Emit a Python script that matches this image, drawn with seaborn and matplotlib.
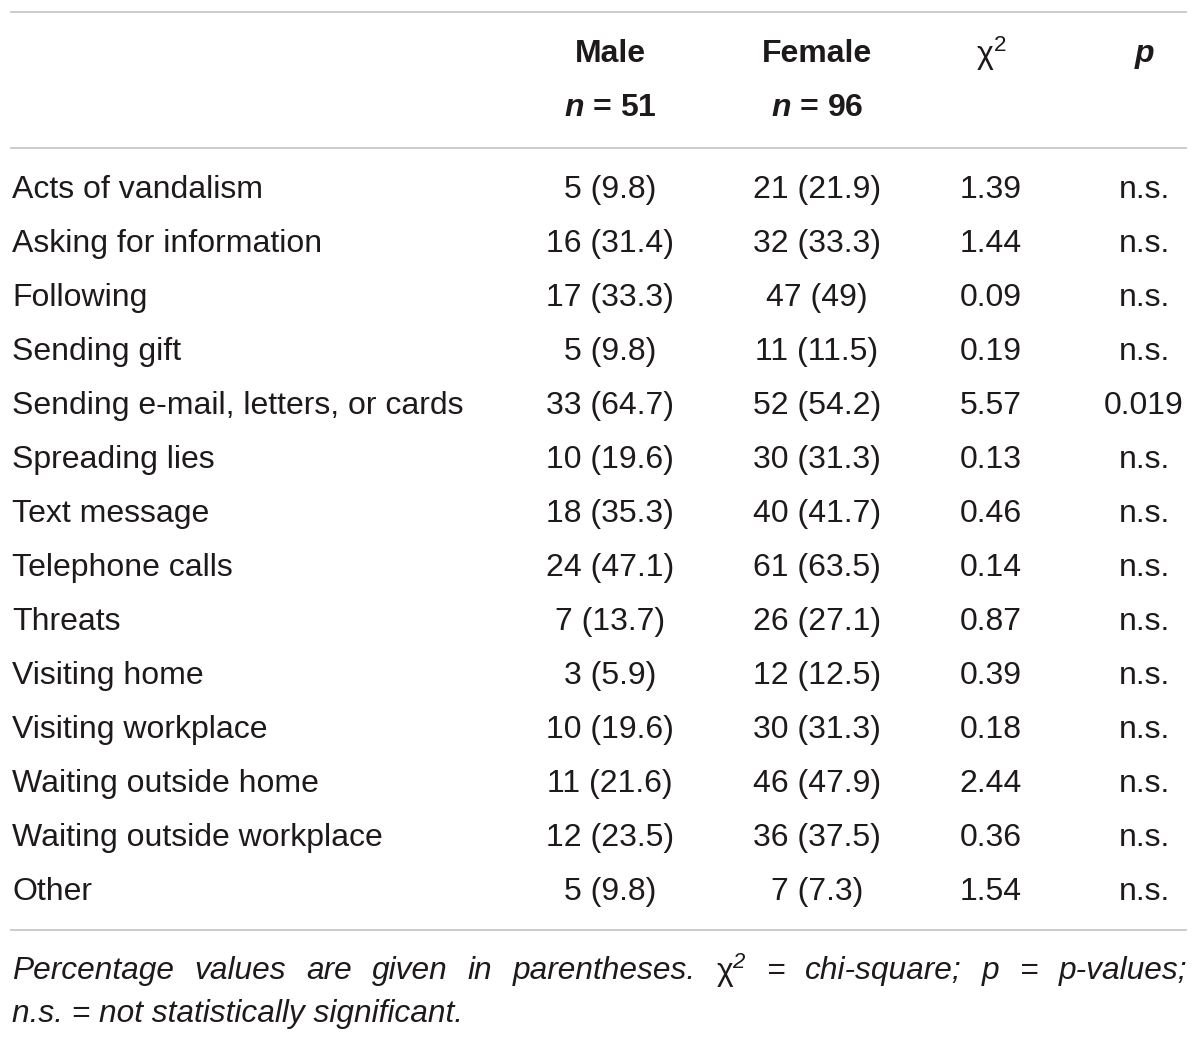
import matplotlib
matplotlib.use("Agg")
import matplotlib.pyplot as plt
import seaborn as sns

sns.set_theme(style="white")
plt.rcParams['font.family'] = ['Liberation Sans', 'DejaVu Sans']
plt.rcParams['mathtext.fontset'] = 'custom'
plt.rcParams['mathtext.rm'] = 'Liberation Sans'
plt.rcParams['mathtext.it'] = 'Liberation Sans:italic:bold'
plt.rcParams['mathtext.default'] = 'regular'

# table data
behaviours = ["Acts of vandalism", "Asking for information", "Following", "Sending gift",
              "Sending e-mail, letters, or cards", "Spreading lies", "Text message",
              "Telephone calls", "Threats", "Visiting home", "Visiting workplace",
              "Waiting outside home", "Waiting outside workplace", "Other"]
male = ["5 (9.8)", "16 (31.4)", "17 (33.3)", "5 (9.8)", "33 (64.7)", "10 (19.6)", "18 (35.3)",
        "24 (47.1)", "7 (13.7)", "3 (5.9)", "10 (19.6)", "11 (21.6)", "12 (23.5)", "5 (9.8)"]
female = ["21 (21.9)", "32 (33.3)", "47 (49)", "11 (11.5)", "52 (54.2)", "30 (31.3)", "40 (41.7)",
          "61 (63.5)", "26 (27.1)", "12 (12.5)", "30 (31.3)", "46 (47.9)", "36 (37.5)", "7 (7.3)"]
chi2 = ["1.39", "1.44", "0.09", "0.19", "5.57", "0.13", "0.46",
        "0.14", "0.87", "0.39", "0.18", "2.44", "0.36", "1.54"]
pvals = ["n.s.", "n.s.", "n.s.", "n.s.", "0.019", "n.s.", "n.s.",
         "n.s.", "n.s.", "n.s.", "n.s.", "n.s.", "n.s.", "n.s."]
note_line1 = "Percentage values are given in parentheses. $\\mathrm{χ}^{2}$ = chi-square; p = p-values;"
note_line2 = "n.s. = not statistically significant."

W, H = 1200, 1043
fig = plt.figure(figsize=(W / 100, H / 100), dpi=100)
ax = fig.add_axes([0, 0, 1, 1])
ax.set_xlim(0, W)
ax.set_ylim(H, 0)
ax.axis("off")

txt = "#1e1a1b"
rule = "#c8c8c8"
fs = 23

# horizontal rules
for y in [12, 148, 930]:
    ax.plot([10, 1187], [y, y], color=rule, lw=1.3, solid_capstyle="butt")

# column centres
col_x = [610, 817, 991, 1144]

# header
ax.text(col_x[0], 54, "Male", ha="center", va="center", fontsize=fs, weight="bold", color=txt)
ax.text(col_x[1], 54, "Female", ha="center", va="center", fontsize=fs, weight="bold", color=txt)
ax.text(col_x[0], 108, "$\\mathit{n}$ = 51", ha="center", va="center", fontsize=fs,
        weight="bold", color=txt)
ax.text(col_x[1], 108, "$\\mathit{n}$ = 96", ha="center", va="center", fontsize=fs,
        weight="bold", color=txt)
ax.text(col_x[2], 54, "χ$^{2}$", ha="center", va="center", fontsize=fs, color=txt)
ax.text(col_x[3], 54, "p", ha="center", va="center", fontsize=fs, weight="bold",
        style="italic", color=txt)

# body
y0, dy = 190, 54
for i, name in enumerate(behaviours):
    y = y0 + i * dy
    ax.text(12, y, name, ha="left", va="center", fontsize=fs, color=txt)
    for x, col in zip(col_x, [male, female, chi2, pvals]):
        ax.text(x, y, col[i], ha="center", va="center", fontsize=fs, color=txt)

# footnote, first line justified
fig.canvas.draw()
renderer = fig.canvas.get_renderer()
words = note_line1.split(" ")
items = []
for w in words:
    t = ax.text(0, 971, w, ha="left", va="center", fontsize=22.8, style="italic", color=txt)
    bb = t.get_window_extent(renderer)
    items.append((t, bb.width))
total = sum(wd for _, wd in items)
gap = (1187 - 12 - total) / (len(items) - 1)
x = 12
for t, wd in items:
    t.set_x(x)
    x += wd + gap
ax.text(12, 1014, note_line2, ha="left", va="center", fontsize=22.8, style="italic", color=txt)

fig.savefig("out.png", dpi=100)
